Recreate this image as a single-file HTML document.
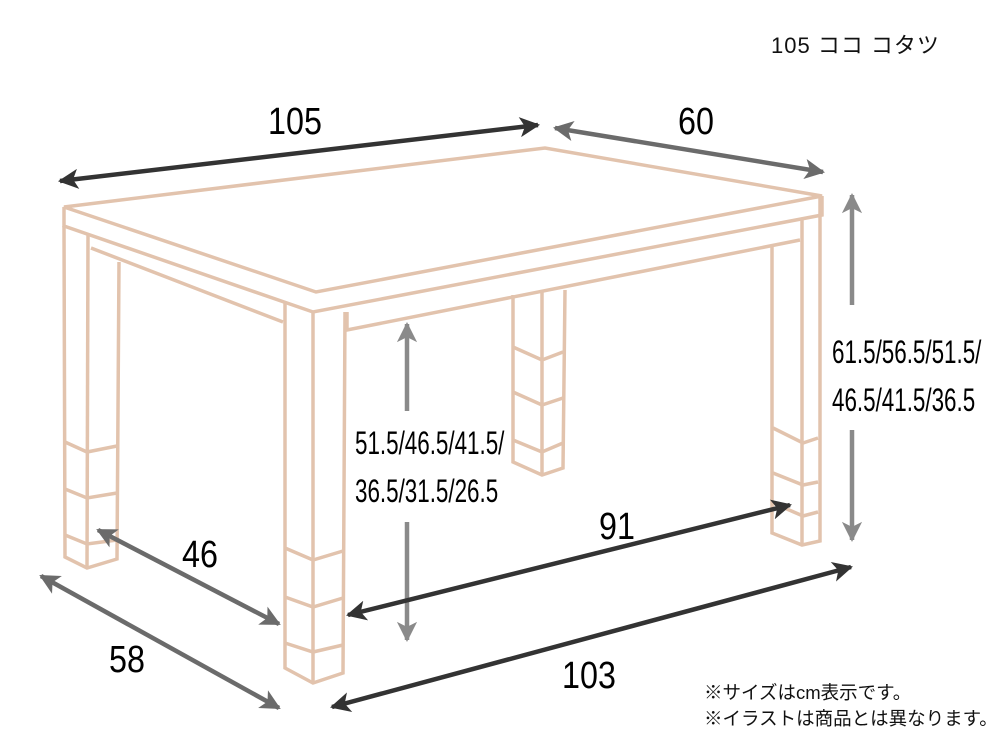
<!DOCTYPE html>
<html><head><meta charset="utf-8"><style>
html,body{margin:0;padding:0;background:#fff}
svg{display:block}
.n{font-family:"Liberation Sans",sans-serif;fill:#000}
.j{font-family:"Liberation Sans","Noto Sans CJK JP",sans-serif;fill:#111}
</style></head><body>
<svg width="1000" height="750" viewBox="0 0 1000 750" xmlns="http://www.w3.org/2000/svg">
<defs>
<marker id="ad" viewBox="0 0 10 10" refX="9" refY="5" markerWidth="5" markerHeight="4.5" orient="auto-start-reverse" markerUnits="strokeWidth"><path d="M0,0L10,5L0,10L2.5,5z" fill="#333"/></marker>
<marker id="ag" viewBox="0 0 10 10" refX="9" refY="5" markerWidth="5" markerHeight="4.5" orient="auto-start-reverse" markerUnits="strokeWidth"><path d="M0,0L10,5L0,10L2.5,5z" fill="#6b6b6b"/></marker>
<marker id="al" viewBox="0 0 10 10" refX="9" refY="5" markerWidth="5" markerHeight="4.5" orient="auto-start-reverse" markerUnits="strokeWidth"><path d="M0,0L10,5L0,10L2.5,5z" fill="#8a8a8a"/></marker>
</defs>
<g fill="none" stroke="#e2c3ad" stroke-width="3.5" stroke-linejoin="miter">
<polygon points="64,207 545,148 822,196 316,292"/>
<polyline points="64,207 64,226 313,312 822,215 822,196"/>
<polyline points="91,248 283,322"/>
<polyline points="347,312 347,330 800,240"/>
<polyline points="64,226 65,557 87,568 117,559 119,262"/>
<line x1="88" y1="235" x2="87" y2="568"/>
<polyline points="65,442 87,452 117,446"/>
<polyline points="65,489 87,498 117,493"/>
<polyline points="65,535 87,544 117,540"/>
<polyline points="285,303 285,668 313,683 343,673 345,312"/>
<line x1="313" y1="312" x2="313" y2="683"/>
<polyline points="285,548 313,560 343,551"/>
<polyline points="285,597 313,607 343,598"/>
<polyline points="285,643 313,652 343,645"/>
<polyline points="513,295 513,462 542,475 563,468 565,290"/>
<line x1="542" y1="291" x2="542" y2="475"/>
<polyline points="513,347 542,360 563,352"/>
<polyline points="513,392 542,405 563,398"/>
<polyline points="513,440 542,452 563,443"/>
<polyline points="772,247 772,533 802,545 820,541 820,197"/>
<line x1="802" y1="219" x2="802" y2="545"/>
<polyline points="773,428 803,443 818,438"/>
<polyline points="773,473 803,485 818,482"/>
<polyline points="773,503 803,516 818,512"/>
</g>
<g stroke-width="4.5" fill="none">
<line x1="60" y1="181" x2="538" y2="125" stroke="#333" marker-start="url(#ad)" marker-end="url(#ad)"/>
<line x1="555" y1="128" x2="823" y2="172" stroke="#6b6b6b" marker-start="url(#ag)" marker-end="url(#ag)"/>
<line x1="852" y1="305" x2="852" y2="195" stroke="#8a8a8a" marker-end="url(#al)"/>
<line x1="852" y1="430" x2="852" y2="540" stroke="#8a8a8a" marker-end="url(#al)"/>
<line x1="407" y1="411" x2="407" y2="324" stroke="#8a8a8a" marker-end="url(#al)"/>
<line x1="407" y1="522" x2="407" y2="640" stroke="#8a8a8a" marker-end="url(#al)"/>
<line x1="348" y1="615" x2="790" y2="505" stroke="#333" marker-start="url(#ad)" marker-end="url(#ad)"/>
<line x1="332" y1="707" x2="851" y2="567" stroke="#333" marker-start="url(#ad)" marker-end="url(#ad)"/>
<line x1="98" y1="530" x2="279" y2="624" stroke="#6b6b6b" marker-start="url(#ag)" marker-end="url(#ag)"/>
<line x1="41" y1="576" x2="279" y2="708" stroke="#6b6b6b" marker-start="url(#ag)" marker-end="url(#ag)"/>
</g>
<g class="n">
<text x="295" y="134" font-size="38" text-anchor="middle" transform="translate(295 0) scale(0.85 1) translate(-295 0)">105</text>
<text x="696" y="134" font-size="38" text-anchor="middle" transform="translate(696 0) scale(0.85 1) translate(-696 0)">60</text>
<text x="200" y="567" font-size="38" text-anchor="middle" transform="translate(200 0) scale(0.85 1) translate(-200 0)">46</text>
<text x="127" y="672" font-size="38" text-anchor="middle" transform="translate(127 0) scale(0.85 1) translate(-127 0)">58</text>
<text x="617" y="539" font-size="38" text-anchor="middle" transform="translate(617 0) scale(0.85 1) translate(-617 0)">91</text>
<text x="589" y="688" font-size="38" text-anchor="middle" transform="translate(589 0) scale(0.85 1) translate(-589 0)">103</text>
<g transform="translate(355 0) scale(0.7 1)">
<text x="0" y="454" font-size="32">51.5/46.5/41.5/</text>
<text x="0" y="502" font-size="32">36.5/31.5/26.5</text>
</g>
<g transform="translate(832 0) scale(0.7 1)">
<text x="0" y="363" font-size="32">61.5/56.5/51.5/</text>
<text x="0" y="411" font-size="32">46.5/41.5/36.5</text>
</g>
</g>
<text class="j" x="771" y="53" font-size="22" letter-spacing="1">105 ココ コタツ</text>
<text class="j" x="704" y="699" font-size="18.5">※サイズはcm表示です。</text>
<text class="j" x="704" y="725" font-size="18.5">※イラストは商品とは異なります。</text>
</svg>
</body></html>
